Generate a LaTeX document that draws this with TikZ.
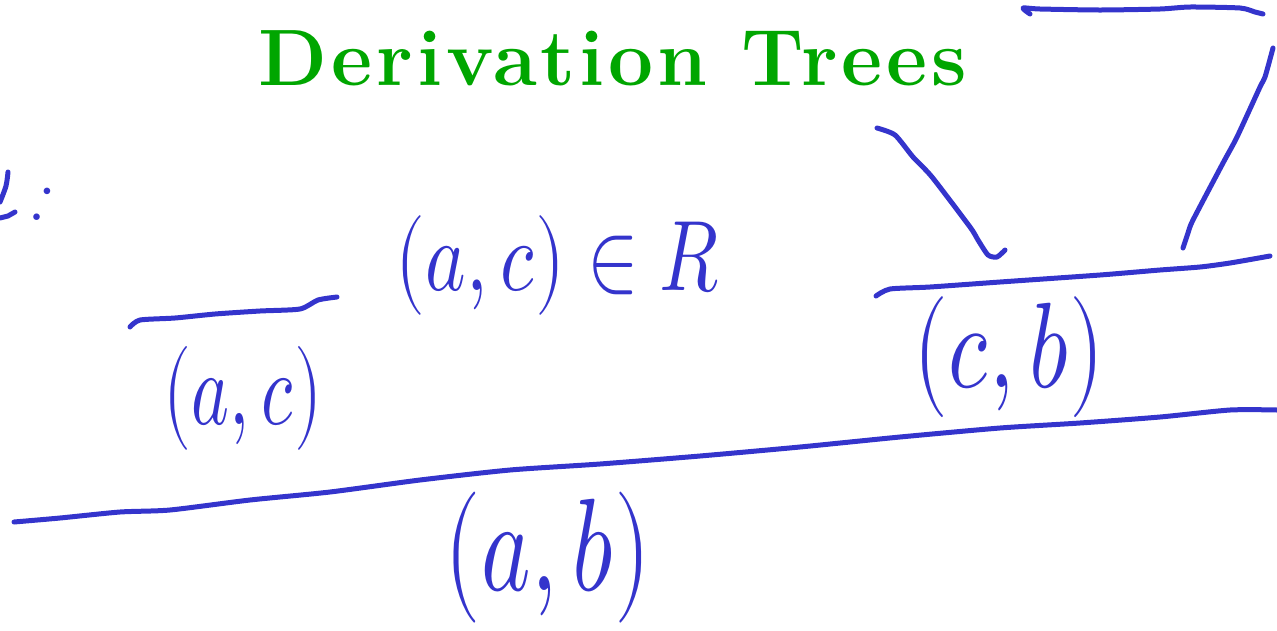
\documentclass[tikz,border=0pt]{standalone}
\usepackage{xcolor}
\usepackage{fontspec}
\usepackage{unicode-math}
\usepackage{tikz}

\newfontfamily\titlefont[LetterSpace=5]{Latin Modern Roman}
\definecolor{inkblue}{RGB}{52,52,204}
\definecolor{titlegreen}{RGB}{0,166,0}

\tikzset{
  ink/.style={draw=inkblue, line width=5pt, line cap=round, line join=round},
  hand/.style={text=inkblue, inner sep=0pt, font=\fontsize{#1}{#1}\selectfont},
  titletext/.style={text=titlegreen, inner sep=0pt, anchor=base,
    font=\titlefont\bfseries\fontsize{80}{90}\selectfont},
}

\begin{document}
\begin{tikzpicture}[x=1pt,y=-1pt]
        \useasboundingbox (0,0) rectangle (1277,630);
        \node[titletext] (title) at (613,85) {Derivation Trees};

        % fragment cut off at the left edge
        \draw[ink] plot[smooth] coordinates {(8,172) (6,186) (0,202)};
        \draw[ink] (0,218) -- (8,216) -- (15,212);
        \node[hand=80, rotate=-22] (colon) at (42,204) {:};

        % premises and conclusions
        \node[hand=77] (acR) at (558,265) {\scalebox{1}[1.3]{$(a,c)\in R$}};
        \node[hand=72] (ac) at (243,398) {\scalebox{1}[1.45]{$(a,c)$}};
        \node[hand=90] (cb) at (1009,357) {\scalebox{1}[1.35]{$(c,b)$}};
        \node[hand=94] (ab) at (548,558) {\scalebox{1}[1.4]{$(a,b)$}};

        % inference bars
        \draw[ink] plot[smooth, tension=0.4] coordinates {(130,327) (140,320) (175,318) (215,314) (260,311) (300,309) (318,300) (337,297)};
        \draw[ink] plot[smooth, tension=0.4] coordinates {(876,296) (890,289) (930,287) (1000,282) (1100,275) (1160,270) (1200,267) (1230,263) (1270,256)};
        \draw[ink] plot[smooth, tension=0.4] coordinates {(14,522) (60,518) (120,512) (170,510) (250,500) (330,492) (420,480) (510,470) (600,464) (700,456) (800,447) (900,437) (1000,428) (1080,423) (1160,417) (1230,410) (1277,410)};
        \draw[ink] plot[smooth, tension=0.4] coordinates {(1030,14) (1023,8) (1040,9) (1100,10) (1160,9) (1190,7) (1240,8) (1255,12) (1263,14)};

        % branches
        \draw[ink] plot[smooth, tension=0.4] coordinates {(877,128) (895,135) (913,157) (932,177) (970,227) (978,240) (988,255) (997,257) (1005,250)};
        \draw[ink] plot[smooth, tension=0.4] coordinates {(1273,48) (1265,77) (1260,87) (1237,137) (1223,163) (1193,220) (1188,233) (1183,248)};
\end{tikzpicture}
\end{document}
